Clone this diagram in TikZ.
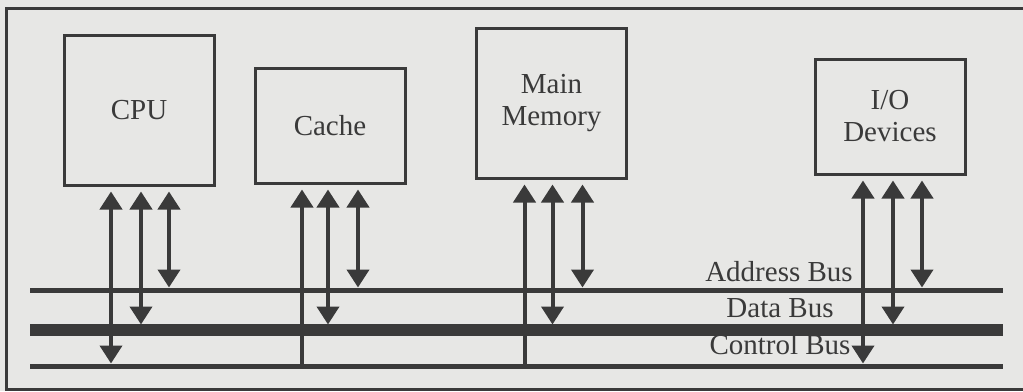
\documentclass[tikz,border=0pt]{standalone}
\usepackage{fontspec}
\setmainfont{Liberation Serif}
\usetikzlibrary{arrows.meta}
\definecolor{paper}{RGB}{231,231,229}
\definecolor{ink}{RGB}{58,58,58}
\tikzset{
  unit/.style={draw=ink, line width=1.5pt, minimum width=75pt, align=center,
    text=ink, font=\fontsize{14.5}{16}\selectfont},
  buslabel/.style={text=ink, font=\fontsize{14.5}{16}\selectfont},
  busline/.style={draw=ink, line width=2.5pt},
  link/.style={draw=ink, line width=2pt,
    {Triangle[width=11pt,length=9pt]}-{Triangle[width=11pt,length=9pt]}},
  uplink/.style={draw=ink, line width=2pt, {Triangle[width=11pt,length=9pt]}-},
}

\begin{document}
\begin{tikzpicture}[x=0.5pt,y=-0.5pt]
\fill[paper] (0,0) rectangle (1023,391);
\useasboundingbox (0,0) rectangle (1023,391);
% frame
\draw[ink, line width=1.5pt] (1023,8) -- (6,8) -- (6,389) -- (1023,389);

% units
\node[unit, minimum height=75pt] (cpu) at (139,110) {CPU};
\node[unit, minimum height=57.5pt] (cache) at (330,125.5) {Cache};
\node[unit, minimum height=75pt] (mem) at (551.5,103) {Main\\Memory};
\node[unit, minimum height=57.5pt] (io) at (890,116.5) {I/O\\Devices};

% buses
\coordinate (abusL) at (30,290);
\coordinate (abusR) at (1003,290);
\coordinate (dbusL) at (30,330);
\coordinate (dbusR) at (1003,330);
\coordinate (cbusL) at (30,366);
\coordinate (cbusR) at (1003,366);
\draw[busline] (abusL) -- (abusR);
\draw[busline, line width=6pt] (dbusL) -- (dbusR);
\draw[busline] (cbusL) -- (cbusR);
\coordinate (atip) at (0,287.5);
\coordinate (dtip) at (0,324.5);
\coordinate (ctip) at (0,363.5);

\node[buslabel] (alabel) at (779,272) {Address Bus};
\node[buslabel] (dlabel) at (780,308) {Data Bus};
\node[buslabel] (clabel) at (780,345) {Control Bus};

% connections
\draw[link] ([xshift=-14pt,yshift=-2.5pt]cpu.south) -- ([xshift=-14pt]cpu.south |- ctip);
\draw[link] ([xshift=1pt,yshift=-2.5pt]cpu.south) -- ([xshift=1pt]cpu.south |- dtip);
\draw[link] ([xshift=15pt,yshift=-2.5pt]cpu.south) -- ([xshift=15pt]cpu.south |- atip);

\draw[uplink] ([xshift=-14pt,yshift=-2.5pt]cache.south) -- ([xshift=-14pt]cache.south |- cbusL);
\draw[link] ([xshift=-1pt,yshift=-2.5pt]cache.south) -- ([xshift=-1pt]cache.south |- dtip);
\draw[link] ([xshift=14pt,yshift=-2.5pt]cache.south) -- ([xshift=14pt]cache.south |- atip);

\draw[uplink] ([xshift=-13.5pt,yshift=-2.5pt]mem.south) -- ([xshift=-13.5pt]mem.south |- cbusL);
\draw[link] ([xshift=0.5pt,yshift=-2.5pt]mem.south) -- ([xshift=0.5pt]mem.south |- dtip);
\draw[link] ([xshift=15.5pt,yshift=-2.5pt]mem.south) -- ([xshift=15.5pt]mem.south |- atip);

\draw[link] ([xshift=-13.5pt,yshift=-2.5pt]io.south) -- ([xshift=-13.5pt]io.south |- ctip);
\draw[link] ([xshift=1.5pt,yshift=-2.5pt]io.south) -- ([xshift=1.5pt]io.south |- dtip);
\draw[link] ([xshift=16pt,yshift=-2.5pt]io.south) -- ([xshift=16pt]io.south |- atip);
\end{tikzpicture}
\end{document}
